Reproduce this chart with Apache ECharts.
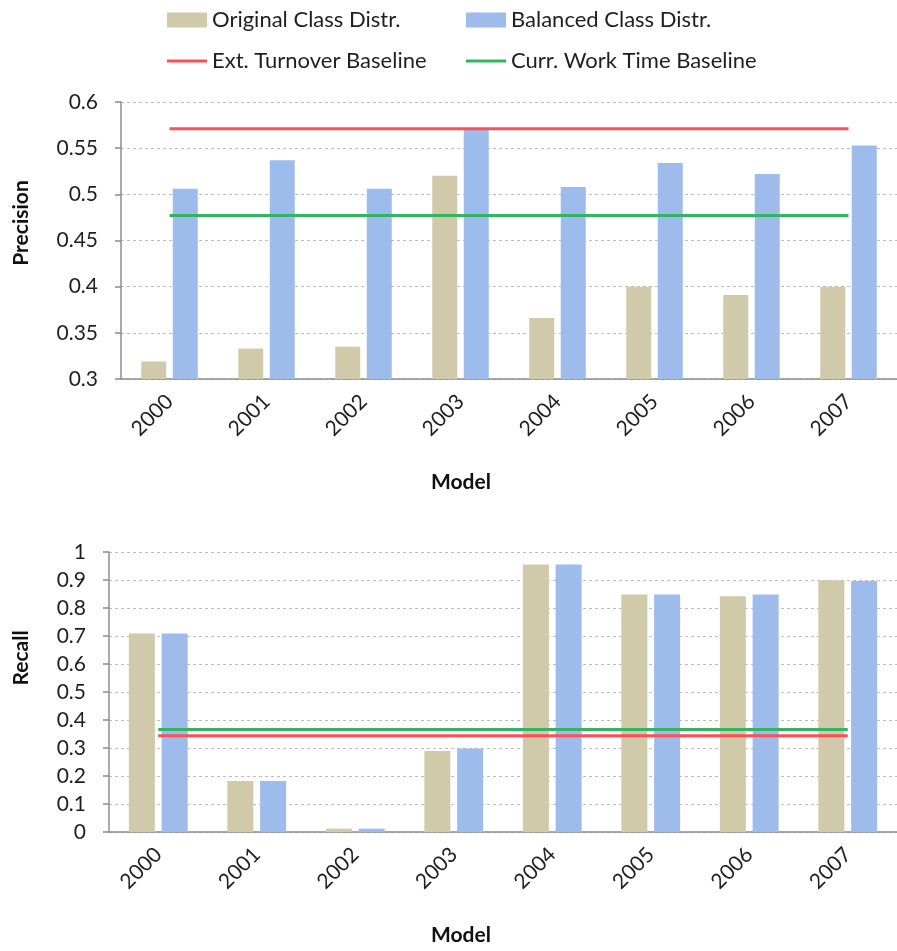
<!DOCTYPE html>
<html>
<head>
<meta charset="utf-8">
<script src="https://cdn.jsdelivr.net/npm/echarts@6/dist/echarts.min.js"></script>
<style>
  html, body { margin: 0; padding: 0; background: #fff; }
  #chart { width: 897px; height: 951px; }
</style>
</head>
<body>
<div id="chart"></div>
<script>
// category labels
const years = ['2000', '2001', '2002', '2003', '2004', '2005', '2006', '2007']

// precision (top panel)
const precisionOriginal = [0.319, 0.333, 0.335, 0.520, 0.366, 0.400, 0.391, 0.400]
const precisionBalanced = [0.506, 0.537, 0.506, 0.570, 0.508, 0.534, 0.522, 0.553]
const precisionExtTurnover = [0.571, 0.571, 0.571, 0.571, 0.571, 0.571, 0.571, 0.571]
const precisionCurrWork = [0.477, 0.477, 0.477, 0.477, 0.477, 0.477, 0.477, 0.477]

// recall (bottom panel)
const recallOriginal = [0.709, 0.182, 0.012, 0.289, 0.955, 0.848, 0.842, 0.899]
const recallBalanced = [0.709, 0.182, 0.012, 0.298, 0.955, 0.848, 0.848, 0.896]
const recallExtTurnover = [0.344, 0.344, 0.344, 0.344, 0.344, 0.344, 0.344, 0.344]
const recallCurrWork = [0.366, 0.366, 0.366, 0.366, 0.366, 0.366, 0.366, 0.366]

const FONT = 'Lato'
const TAN = '#d0caab'
const BLUE = '#9dbbeb'
const RED = '#ff4f55'
const GREEN = '#33b462'
const TEXT = '#1e1e24'

const chart = echarts.init(document.getElementById('chart'), null, { renderer: 'canvas' })

function legendItem(name, left, top, isLine) {
  return {
    data: [name],
    left: left,
    top: top,
    padding: 0,
    icon: 'rect',
    itemWidth: 40,
    itemHeight: isLine ? 3 : 15,
    selectedMode: false,
    textStyle: { fontFamily: FONT, fontSize: 22, color: TEXT }
  }
}

function xAxisFor(gridIndex) {
  return {
    type: 'category',
    gridIndex: gridIndex,
    data: years,
    axisLine: { lineStyle: { color: '#8c8c8c', width: 1.5 } },
    axisTick: { length: 6, lineStyle: { color: '#8c8c8c', width: 1.5 } },
    axisLabel: { rotate: 45, margin: 19, fontFamily: FONT, fontSize: 21, color: TEXT }
  }
}

function yAxisFor(gridIndex, min, max, interval) {
  return {
    type: 'value',
    gridIndex: gridIndex,
    min: min,
    max: max,
    interval: interval,
    axisLine: { show: true, lineStyle: { color: '#8c8c8c', width: 1.5 } },
    axisTick: { show: true, length: 6, lineStyle: { color: '#8c8c8c', width: 1.5 } },
    axisLabel: { margin: 23, fontFamily: FONT, fontSize: 21, color: TEXT },
    splitLine: { lineStyle: { color: '#bdbdbd', type: [3, 3], width: 1 } }
  }
}

function barSeries(name, data, color, idx, width) {
  return {
    name: name,
    type: 'bar',
    xAxisIndex: idx,
    yAxisIndex: idx,
    data: data,
    barWidth: width,
    barGap: '26%',
    itemStyle: { color: color },
    z: 2
  }
}

function lineSeries(name, data, color, idx) {
  return {
    name: name,
    type: 'line',
    xAxisIndex: idx,
    yAxisIndex: idx,
    data: data,
    symbol: 'none',
    lineStyle: { color: color, width: 3 },
    itemStyle: { color: color },
    z: 5
  }
}

// axis titles, placed where the original has them
function title(text, x, y, vertical) {
  return {
    type: 'text',
    x: x,
    y: y,
    rotation: vertical ? Math.PI / 2 : 0,
    style: {
      text: text, fontFamily: FONT, fontSize: 21, fontWeight: 'bold',
      fill: '#111', align: 'center', verticalAlign: 'middle'
    }
  }
}

chart.setOption({
  animation: false,
  backgroundColor: '#fff',
  textStyle: { fontFamily: FONT },
  legend: [
    legendItem('Original Class Distr.', 167, 9, false),
    legendItem('Balanced Class Distr.', 466, 9, false),
    legendItem('Ext. Turnover Baseline', 167, 50, true),
    legendItem('Curr. Work Time Baseline', 466, 50, true)
  ],
  grid: [
    { left: 121, top: 102, width: 786, height: 277 },
    { left: 109, top: 552, width: 796, height: 280 }
  ],
  xAxis: [xAxisFor(0), xAxisFor(1)],
  yAxis: [
    yAxisFor(0, 0.3, 0.6, 0.05),
    yAxisFor(1, 0, 1, 0.1)
  ],
  graphic: [
    title('Precision', 21, 223, true),
    title('Recall', 21, 658, true),
    title('Model', 461, 482, false),
    title('Model', 461, 935, false)
  ],
  series: [
    barSeries('Original Class Distr.', precisionOriginal, TAN, 0, 25),
    barSeries('Balanced Class Distr.', precisionBalanced, BLUE, 0, 25),
    lineSeries('Ext. Turnover Baseline', precisionExtTurnover, RED, 0),
    lineSeries('Curr. Work Time Baseline', precisionCurrWork, GREEN, 0),
    barSeries('Original Class Distr.', recallOriginal, TAN, 1, 26),
    barSeries('Balanced Class Distr.', recallBalanced, BLUE, 1, 26),
    lineSeries('Ext. Turnover Baseline', recallExtTurnover, RED, 1),
    lineSeries('Curr. Work Time Baseline', recallCurrWork, GREEN, 1)
  ]
})
</script>
</body>
</html>
